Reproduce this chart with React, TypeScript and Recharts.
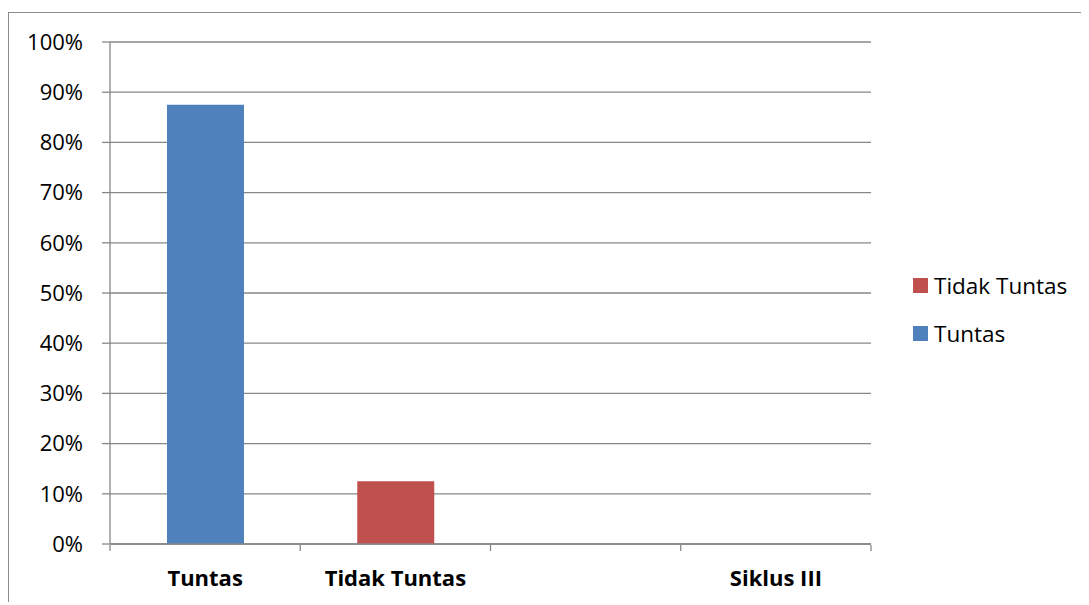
import React from "react";
import { BarChart, Bar, XAxis, YAxis, CartesianGrid, Legend } from "recharts";

const categories = ["Tuntas", "Tidak Tuntas", "", "Siklus III"];
const tuntasValues = [0.875, null, null, null];
const tidakTuntasValues = [null, 0.125, null, null];
const yTicks = [0, 0.1, 0.2, 0.3, 0.4, 0.5, 0.6, 0.7, 0.8, 0.9, 1];
const boundaryTicks = [0, 1, 2, 3, 4];

const data = categories.map((c, i) => ({
  name: c,
  idx: i + 0.5,
  tuntas: tuntasValues[i],
  tidakTuntas: tidakTuntasValues[i],
}));

const FONT = "'Open Sans', sans-serif";
const GRID = "#878787";

const legendItems = [
  { label: "Tidak Tuntas", color: "#C0504D" },
  { label: "Tuntas", color: "#4F81BD" },
];

const LegendContent = () => (
  <div style={{ fontFamily: FONT, fontSize: 22.5, color: "#000", paddingLeft: 42, paddingTop: 4 }}>
    {legendItems.map((it) => (
      <div key={it.label} style={{ display: "flex", alignItems: "center", height: 48, whiteSpace: "nowrap" }}>
        <span style={{ display: "inline-block", flexShrink: 0, width: 15, height: 15, background: it.color, marginRight: 6 }} />
        <span>{it.label}</span>
      </div>
    ))}
  </div>
);

export default function App() {
  return (
    <div
      style={{
        marginTop: 4,
        width: 1081,
        height: 590,
        borderLeft: "1px solid #8a8a8a",
        borderTop: "1px solid #8a8a8a",
        boxSizing: "border-box",
        position: "relative",
      }}
    >
      <BarChart
        width={1080}
        height={589}
        data={data}
        margin={{ top: 29, right: 8, bottom: 55, left: 0 }}
      >
        <CartesianGrid vertical={false} stroke={GRID} strokeWidth={1.3} xAxisId="cat" />
        <XAxis
          xAxisId="cat"
          dataKey="name"
          interval={0}
          tickLine={false}
          axisLine={{ stroke: GRID, strokeWidth: 1.3 }}
          tickSize={0}
          tickMargin={26}
          height={1}
          tick={{ fontFamily: FONT, fontSize: 22, fontWeight: 700, fill: "#000" }}
        />
        <XAxis
          xAxisId="ticks"
          type="number"
          dataKey="idx"
          domain={[0, 4]}
          ticks={boundaryTicks}
          interval={0}
          tick={() => <g />}
          axisLine={false}
          tickLine={{ stroke: GRID, strokeWidth: 1.3 }}
          tickSize={6}
          height={2}
        />
        <YAxis
          width={101}
          domain={[0, 1]}
          ticks={yTicks}
          interval={0}
          tickFormatter={(v: number) => `${Math.round(v * 100)}%`}
          axisLine={{ stroke: GRID, strokeWidth: 1.3 }}
          tickLine={{ stroke: GRID, strokeWidth: 1.3 }}
          tickSize={8}
          tickMargin={19}
          tick={{ fontFamily: FONT, fontSize: 22, fill: "#000" }}
        />
        <Legend
          layout="vertical"
          align="right"
          verticalAlign="middle"
          width={210}
          content={<LegendContent />}
        />
        <Bar xAxisId="cat" dataKey="tuntas" name="Tuntas" stackId="a" fill="#4F81BD" barSize={77} isAnimationActive={false} />
        <Bar xAxisId="cat" dataKey="tidakTuntas" name="Tidak Tuntas" stackId="a" fill="#C0504D" barSize={77} isAnimationActive={false} />
      </BarChart>
    </div>
  );
}
